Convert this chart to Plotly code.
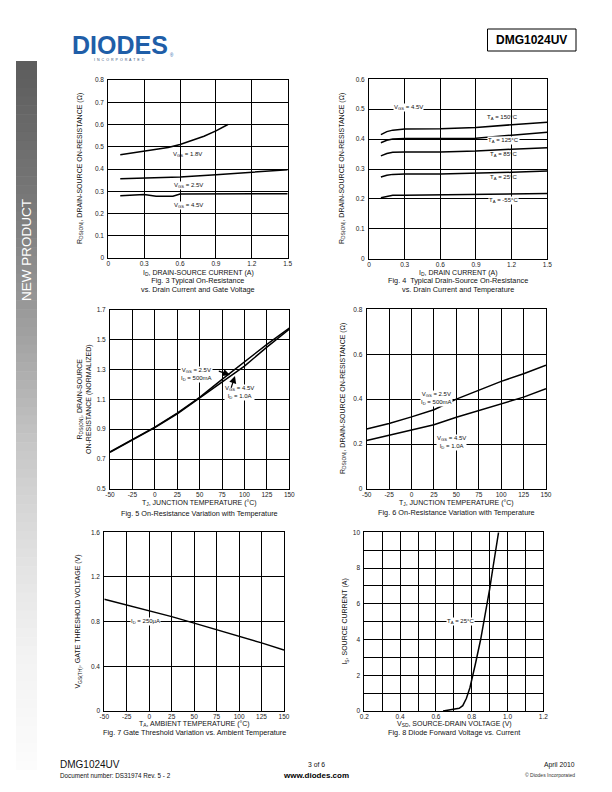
import plotly.graph_objects as go

W, H = 612, 792
def px(x): return x / W
def py(y): return 1 - y / H

FONT = "Liberation Sans, Arial, sans-serif"

# ---------------- data ----------------
# Fig 3
f3_id_18 = [0.1, 0.2, 0.3, 0.4, 0.5, 0.6, 0.7, 0.8, 0.9, 1.0]
f3_r_18 = [0.464, 0.472, 0.479, 0.487, 0.497, 0.510, 0.527, 0.547, 0.571, 0.600]
f3_id_25 = [0.1, 0.3, 0.6, 0.9, 1.2, 1.5]
f3_r_25 = [0.356, 0.359, 0.364, 0.374, 0.386, 0.397]
f3_id_45 = [0.1, 0.2, 0.3, 0.4, 0.54, 0.6, 0.9, 1.2, 1.5]
f3_r_45 = [0.280, 0.284, 0.285, 0.278, 0.278, 0.288, 0.288, 0.289, 0.289]
f3_xticks = [0, 0.3, 0.6, 0.9, 1.2, 1.5]
f3_xtext = ["0", "0.3", "0.6", "0.9", "1.2", "1.5"]
f3_yticks = [0, 0.1, 0.2, 0.3, 0.4, 0.5, 0.6, 0.7, 0.8]
f3_ytext = ["0", "0.1", "0.2", "0.3", "0.4", "0.5", "0.6", "0.7", "0.8"]

# Fig 4
f4_id = [0.1, 0.15, 0.2, 0.3, 0.6, 0.9, 1.2, 1.5]
f4_r_150 = [0.415, 0.425, 0.430, 0.434, 0.435, 0.439, 0.448, 0.456]
f4_r_125 = [0.388, 0.396, 0.400, 0.402, 0.402, 0.403, 0.413, 0.423]
f4_r_85 = [0.344, 0.352, 0.356, 0.357, 0.357, 0.360, 0.366, 0.371]
f4_r_25 = [0.273, 0.279, 0.282, 0.283, 0.283, 0.285, 0.289, 0.293]
f4_r_m55 = [0.204, 0.209, 0.212, 0.212, 0.213, 0.214, 0.216, 0.218]
f4_yticks = [0, 0.1, 0.2, 0.3, 0.4, 0.5, 0.6]
f4_ytext = ["0", "0.1", "0.2", "0.3", "0.4", "0.5", "0.6"]

# Fig 5
f5_t = [-50, -25, 0, 25, 50, 75, 100, 125, 150]
f5_r_25 = [0.748, 0.833, 0.913, 1.007, 1.113, 1.233, 1.350, 1.467, 1.575]
f5_r_45 = [0.745, 0.830, 0.910, 1.003, 1.108, 1.215, 1.322, 1.448, 1.568]
temp_ticks = [-50, -25, 0, 25, 50, 75, 100, 125, 150]
temp_text = ["-50", "-25", "0", "25", "50", "75", "100", "125", "150"]
f5_yticks = [0.5, 0.7, 0.9, 1.1, 1.3, 1.5, 1.7]
f5_ytext = ["0.5", "0.7", "0.9", "1.1", "1.3", "1.5", "1.7"]

# Fig 6
f6_t = [-50, -25, 0, 25, 50, 75, 100, 125, 150]
f6_r_25 = [0.267, 0.292, 0.321, 0.353, 0.400, 0.438, 0.479, 0.513, 0.551]
f6_r_45 = [0.216, 0.240, 0.261, 0.286, 0.319, 0.348, 0.378, 0.409, 0.446]
f6_yticks = [0, 0.2, 0.4, 0.6, 0.8]
f6_ytext = ["0", "0.2", "0.4", "0.6", "0.8"]

# Fig 7
f7_t = [-50, -25, 0, 25, 50, 75, 100, 125, 150]
f7_v = [1.000, 0.950, 0.900, 0.845, 0.787, 0.730, 0.670, 0.610, 0.545]
f7_yticks = [0, 0.4, 0.8, 1.2, 1.6]
f7_ytext = ["0", "0.4", "0.8", "1.2", "1.6"]

# Fig 8
f8_v = [0.64, 0.67, 0.70, 0.73, 0.75, 0.77, 0.79, 0.80, 0.82, 0.85, 0.88, 0.90, 0.92, 0.95]
f8_i = [0.0, 0.04, 0.08, 0.15, 0.30, 0.70, 1.30, 1.80, 2.60, 4.00, 5.60, 6.80, 8.10, 10.0]
f8_xticks = [0.2, 0.3, 0.4, 0.5, 0.6, 0.7, 0.8, 0.9, 1.0, 1.1, 1.2]
f8_xtext = ["0.2", "", "0.4", "", "0.6", "", "0.8", "", "1.0", "", "1.2"]
f8_yticks = [0, 1, 2, 3, 4, 5, 6, 7, 8, 9, 10]
f8_ytext = ["0", "", "2", "", "4", "", "6", "", "8", "", "10"]

# ---------------- layout helpers ----------------
panels = {
    1: dict(x=(108.3, 287.7), y=(80, 258)),
    2: dict(x=(369, 547.3), y=(79.3, 258.7)),
    3: dict(x=(110, 289.3), y=(309.5, 489)),
    4: dict(x=(366.7, 546), y=(309.3, 489)),
    5: dict(x=(104.3, 284), y=(532.3, 711)),
    6: dict(x=(364.3, 543.3), y=(532.3, 711)),
}

fig = go.Figure()
LINE = dict(color="black", width=1.5)

def add(n, x, y):
    fig.add_trace(go.Scatter(x=x, y=y, mode="lines", line=LINE,
                             xaxis="x" if n == 1 else f"x{n}",
                             yaxis="y" if n == 1 else f"y{n}",
                             showlegend=False, hoverinfo="skip"))

add(1, f3_id_18, f3_r_18); add(1, f3_id_25, f3_r_25); add(1, f3_id_45, f3_r_45)
for r in (f4_r_150, f4_r_125, f4_r_85, f4_r_25, f4_r_m55):
    add(2, f4_id, r)
add(3, f5_t, f5_r_25); add(3, f5_t, f5_r_45)
add(4, f6_t, f6_r_25); add(4, f6_t, f6_r_45)
add(5, f7_t, f7_v)
add(6, f8_v, f8_i)

axis_specs = {
    1: (dict(range=[0, 1.5], tickvals=f3_xticks, ticktext=f3_xtext),
        dict(range=[0, 0.8], tickvals=f3_yticks, ticktext=f3_ytext)),
    2: (dict(range=[0, 1.5], tickvals=f3_xticks, ticktext=f3_xtext),
        dict(range=[0, 0.6], tickvals=f4_yticks, ticktext=f4_ytext)),
    3: (dict(range=[-50, 150], tickvals=temp_ticks, ticktext=temp_text),
        dict(range=[0.5, 1.7], tickvals=f5_yticks, ticktext=f5_ytext)),
    4: (dict(range=[-50, 150], tickvals=temp_ticks, ticktext=temp_text),
        dict(range=[0, 0.8], tickvals=f6_yticks, ticktext=f6_ytext)),
    5: (dict(range=[-50, 150], tickvals=temp_ticks, ticktext=temp_text),
        dict(range=[0, 1.6], tickvals=f7_yticks, ticktext=f7_ytext)),
    6: (dict(range=[0.2, 1.2], tickvals=f8_xticks, ticktext=f8_xtext),
        dict(range=[0, 10], tickvals=f8_yticks, ticktext=f8_ytext)),
}

common = dict(showgrid=True, gridcolor="black", gridwidth=1, showline=True,
              linecolor="black", linewidth=1, mirror=True, zeroline=False,
              ticks="", tickmode="array", fixedrange=True, automargin=False,
              ticklabelposition="outside",
              tickfont=dict(family=FONT, size=6.5, color="#222"))
layout = {}
for n, (xs, ys) in axis_specs.items():
    p = panels[n]
    xk = "xaxis" if n == 1 else f"xaxis{n}"
    yk = "yaxis" if n == 1 else f"yaxis{n}"
    xa = dict(common, **xs, domain=[px(p["x"][0]), px(p["x"][1])], side="bottom",
              ticklabelstandoff=-1, anchor="y" if n == 1 else f"y{n}")
    ya = dict(common, **ys, domain=[py(p["y"][1]), py(p["y"][0])], side="left",
              ticklabelstandoff=2, anchor="x" if n == 1 else f"x{n}")
    layout[xk] = xa
    layout[yk] = ya

fig.update_layout(width=W, height=H, margin=dict(l=0, r=0, t=0, b=0),
                  paper_bgcolor="white", plot_bgcolor="white", **layout)

def txt(text, x, y, size, xanchor="center", angle=0, color="#111", bold=False, yanchor="middle"):
    fig.add_annotation(text=f"<b>{text}</b>" if bold else text, x=px(x), y=py(y),
                       xref="paper", yref="paper", showarrow=False,
                       xanchor=xanchor, yanchor=yanchor, textangle=angle,
                       font=dict(family=FONT, size=size, color=color))

# axis titles and captions
TS = 7
CS = 7.3
txt("I<sub>D</sub>, DRAIN-SOURCE CURRENT (A)", 198, 272.5, TS)
txt("Fig. 3 Typical On-Resistance<br>vs. Drain Current and Gate Voltage", 198, 284.8, CS)
txt("R<sub>DS(ON)</sub>, DRAIN-SOURCE ON-RESISTANCE (Ω)", 80, 169, TS, angle=-90)

txt("I<sub>D</sub>, DRAIN CURRENT (A)", 458, 272.5, TS)
txt("Fig. 4  Typical Drain-Source On-Resistance<br>vs. Drain Current and Temperature", 458, 284.8, CS)
txt("R<sub>DS(ON)</sub>, DRAIN-SOURCE ON-RESISTANCE (Ω)", 342, 169, TS, angle=-90)

txt("T<sub>J</sub>, JUNCTION TEMPERATURE (°C)", 199.6, 502.5, TS)
txt("Fig. 5 On-Resistance Variation with Temperature", 199.6, 513, CS)
txt("R<sub>DS(ON)</sub>, DRAIN-SOURCE<br>ON-RESISTANCE (NORMALIZED)", 84, 399, TS, angle=-90)

txt("T<sub>J</sub>, JUNCTION TEMPERATURE (°C)", 456, 503, TS)
txt("Fig. 6 On-Resistance Variation with Temperature", 456, 512.5, CS)
txt("R<sub>DS(ON)</sub>, DRAIN-SOURCE ON-RESISTANCE (Ω)", 343, 399, TS, angle=-90)

txt("T<sub>A</sub>, AMBIENT TEMPERATURE (°C)", 194, 723.5, TS)
txt("Fig. 7 Gate Threshold Variation vs. Ambient Temperature", 194, 732, CS)
txt("V<sub>GS(TH)</sub>, GATE THRESHOLD VOLTAGE (V)", 78, 621.6, TS, angle=-90)

txt("V<sub>SD</sub>, SOURCE-DRAIN VOLTAGE (V)", 454, 723.5, TS)
txt("Fig. 8 Diode Forward Voltage vs. Current", 454, 732, CS)
txt("I<sub>S</sub>, SOURCE CURRENT (A)", 345, 621.6, TS, angle=-90)

# in-plot labels
LS = 6
def lab(n, text, x, y, xanchor="center", bg="white"):
    fig.add_annotation(text=text, x=x, y=y, xref="x" if n == 1 else f"x{n}",
                       yref="y" if n == 1 else f"y{n}", showarrow=False,
                       xanchor=xanchor, yanchor="middle", bgcolor=bg, borderpad=0,
                       font=dict(family=FONT, size=LS, color="#111"))

CLEAR = "rgba(0,0,0,0)"
lab(1, "V<sub>GS</sub> = 1.8V", 0.66, 0.463, bg=CLEAR)
lab(1, "V<sub>GS</sub> = 2.5V", 0.67, 0.325)
lab(1, "V<sub>GS</sub> = 4.5V", 0.67, 0.237)

lab(2, "V<sub>GS</sub> = 4.5V", 0.33, 0.505)
lab(2, "T<sub>A</sub> = 150°C", 1.12, 0.471, bg=CLEAR)
lab(2, "T<sub>A</sub> = 125°C", 1.13, 0.396)
lab(2, "T<sub>A</sub> = 85°C", 1.13, 0.347, bg=CLEAR)
lab(2, "T<sub>A</sub> = 25°C", 1.13, 0.272, bg=CLEAR)
lab(2, "T<sub>A</sub> = -55°C", 1.13, 0.195)

lab(3, "V<sub>GS</sub> = 2.5V<br>I<sub>D</sub> = 500mA", 28, 1.265, xanchor="left")
lab(3, "V<sub>GS</sub> = 4.5V<br>I<sub>D</sub> = 1.0A", 77, 1.145, xanchor="left")
for (hx, hy, tx, ty) in [(83.9, 1.262, 69.7, 1.291), (89.4, 1.255, 84.6, 1.167)]:
    fig.add_annotation(x=hx, y=hy, ax=tx, ay=ty, xref="x3", yref="y3", axref="x3", ayref="y3",
                       text="", showarrow=True, arrowhead=2, arrowsize=1.2, arrowwidth=1.2,
                       arrowcolor="black", standoff=0)

lab(4, "V<sub>GS</sub> = 2.5V<br>I<sub>D</sub> = 500mA", 10, 0.405, xanchor="left")
lab(4, "V<sub>GS</sub> = 4.5V<br>I<sub>D</sub> = 1.0A", 27, 0.205, xanchor="left")

lab(5, "I<sub>D</sub> = 250µA", -4, 0.8)
lab(6, "T<sub>A</sub> = 25°C", 0.735, 5.0)

# ---------------- page decorations ----------------
stops = [(61, 92), (200, 120), (330, 160), (450, 200), (560, 226), (650, 242), (770, 252)]
def gray_at(y):
    for (y0, g0), (y1, g1) in zip(stops[:-1], stops[1:]):
        if y0 <= y <= y1:
            return g0 + (g1 - g0) * (y - y0) / (y1 - y0)
    return stops[-1][1]
N = 80
y_start, y_end = 61, 770
step = (y_end - y_start) / N
for i in range(N):
    a = y_start + i * step
    b = a + step + 0.6
    g = int(round(gray_at(a + step / 2)))
    fig.add_shape(type="rect", xref="paper", yref="paper",
                  x0=px(16), x1=px(37), y0=py(min(b, y_end)), y1=py(a),
                  fillcolor=f"rgb({g},{g},{g})", line=dict(width=0), layer="below")
txt("NEW PRODUCT", 27, 250, 13.5, angle=-90, color="white")

# logo
txt("<b>DIODES</b>", 70, 45.5, 25, xanchor="left", color="#1f5ea8")
fig.add_shape(type="line", xref="paper", yref="paper", x0=px(70), x1=px(167),
              y0=py(49), y1=py(49), line=dict(color="white", width=0.8))
txt("®", 167.5, 55, 4.5, xanchor="left", color="#1f5ea8")
txt("I  N  C  O  R  P  O  R  A  T  E  D", 119, 60.5, 3.6, color="#33507a")

# part-number box
fig.add_shape(type="rect", xref="paper", yref="paper", x0=px(487.5), x1=px(576),
              y0=py(51), y1=py(29), line=dict(color="black", width=1), fillcolor="white")
txt("DMG1024UV", 531.7, 40, 12, bold=True, color="black")

# footer
txt("DMG1024UV", 58, 764.5, 10, xanchor="left", color="#111")
txt("Document number: DS31974 Rev. 5 - 2", 58, 775, 6.3, xanchor="left", color="#111")
txt("3 of 6", 316, 764.5, 6.8, color="#111")
txt("www.diodes.com", 316, 775, 8, bold=True, color="black")
txt("April 2010", 577, 764.5, 6.8, xanchor="right", color="#111")
txt("© Diodes Incorporated", 577, 775, 5, xanchor="right", color="#333")

fig.write_html("out.html")
